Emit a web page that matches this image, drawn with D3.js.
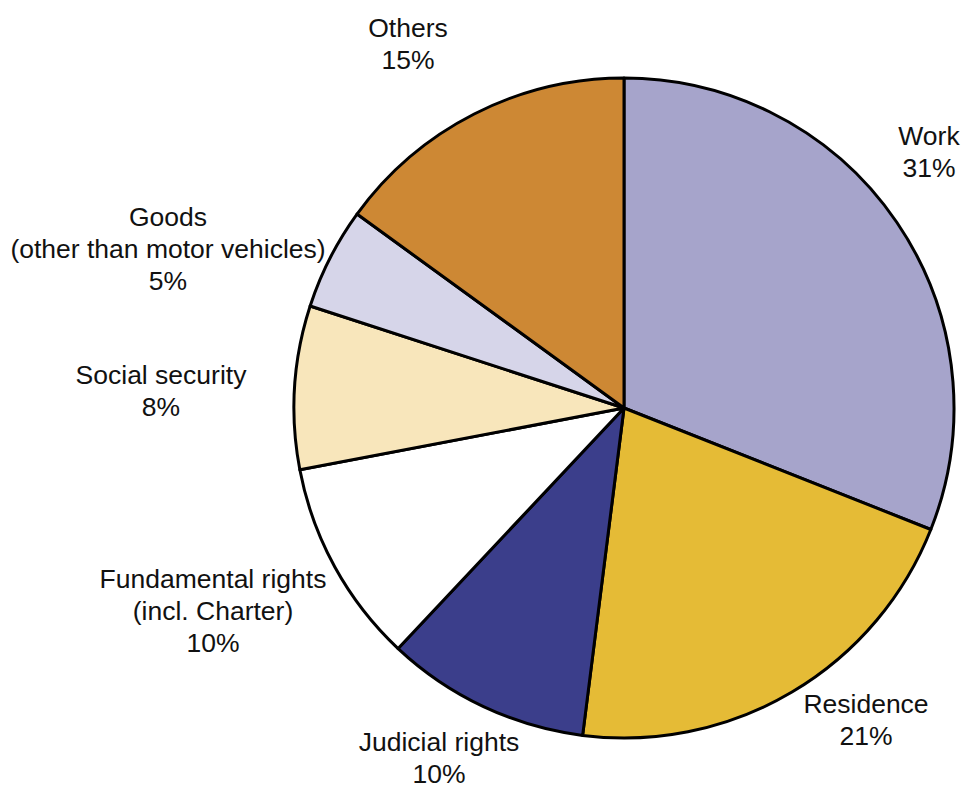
<!DOCTYPE html>
<html>
<head>
<meta charset="utf-8">
<script src="https://cdn.jsdelivr.net/npm/d3@7"></script>
<style>
  html, body { margin: 0; padding: 0; background: #fff; }
  svg { display: block; }
  text { font-family: "Liberation Sans", Arial, sans-serif; font-size: 26.5px; fill: #111; }
</style>
</head>
<body>
<svg id="chart" width="962" height="792"></svg>
<script>
// Share of cases by subject area, clockwise from 12 o'clock
const categories = ["Work", "Residence", "Judicial rights", "Fundamental rights", "Social security", "Goods", "Others"];
const values = [31, 21, 10, 10, 8, 5, 15];
const labelLines = [
  ["Work"],
  ["Residence"],
  ["Judicial rights"],
  ["Fundamental rights", "(incl. Charter)"],
  ["Social security"],
  ["Goods", "(other than motor vehicles)"],
  ["Others"]
];
const colors = ["#a6a4cb", "#e5bb36", "#3b3e8b", "#ffffff", "#f8e6bb", "#d6d5e9", "#cd8834"];

// Label anchor points in chart coordinates (centre of the text block)
const labelPos = [
  [929, 152], [866, 720], [439, 758], [213, 611], [161, 391], [168, 249], [408, 44]
];

const svg = d3.select("#chart");
const cx = 624, cy = 408, r = 330;

const data = categories.map((c, i) => ({ name: c, value: values[i], lines: labelLines[i], color: colors[i], pos: labelPos[i] }));

const pie = d3.pie().value(d => d.value).sort(null);
const arc = d3.arc().innerRadius(0).outerRadius(r);

const g = svg.append("g").attr("transform", `translate(${cx},${cy})`);

g.selectAll("path.slice")
  .data(pie(data))
  .join("path")
  .attr("class", "slice")
  .attr("d", arc)
  .attr("fill", d => d.data.color)
  .attr("stroke", "#000")
  .attr("stroke-width", 3)
  .attr("stroke-linejoin", "round");

const lineH = 32;
const labels = svg.selectAll("text.label")
  .data(data)
  .join("text")
  .attr("class", "label")
  .attr("text-anchor", "middle");

labels.each(function(d) {
  const lines = d.lines.concat([d.value + "%"]);
  const top = d.pos[1] - (lines.length - 1) * lineH / 2;
  const t = d3.select(this);
  lines.forEach((s, i) => {
    t.append("tspan")
      .attr("x", d.pos[0])
      .attr("y", top + i * lineH)
      .attr("dy", "0.35em")
      .text(s);
  });
});
</script>
</body>
</html>
